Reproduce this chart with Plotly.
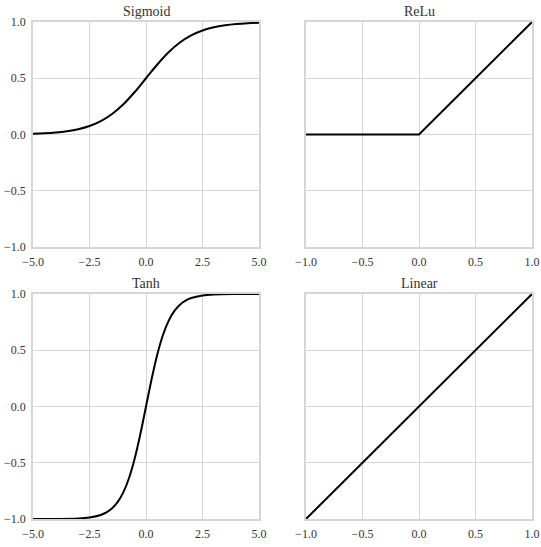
import plotly.graph_objects as go

# Data
sig_x = [-5, -4.5, -4, -3.5, -3, -2.5, -2, -1.5, -1, -0.5, 0, 0.5, 1, 1.5, 2, 2.5, 3, 3.5, 4, 4.5, 5]
sig_y = [0.0067, 0.0110, 0.0180, 0.0293, 0.0474, 0.0759, 0.1192, 0.1824, 0.2689, 0.3775, 0.5,
         0.6225, 0.7311, 0.8176, 0.8808, 0.9241, 0.9526, 0.9707, 0.9820, 0.9890, 0.9933]

relu_x = [-1.0, 0.0, 1.0]
relu_y = [0.0, 0.0, 1.0]

tanh_x = [-5, -4, -3, -2.5, -2, -1.75, -1.5, -1.25, -1, -0.75, -0.5, -0.25, 0,
          0.25, 0.5, 0.75, 1, 1.25, 1.5, 1.75, 2, 2.5, 3, 4, 5]
tanh_y = [-0.9999, -0.9993, -0.9951, -0.9866, -0.9640, -0.9414, -0.9051, -0.8483, -0.7616, -0.6351, -0.4621, -0.2449, 0.0,
          0.2449, 0.4621, 0.6351, 0.7616, 0.8483, 0.9051, 0.9414, 0.9640, 0.9866, 0.9951, 0.9993, 0.9999]

lin_x = [-1.0, 1.0]
lin_y = [-1.0, 1.0]

titles = ["Sigmoid", "ReLu", "Tanh", "Linear"]
wide_ticks = [-5.0, -2.5, 0.0, 2.5, 5.0]
wide_text = ["\u22125.0", "\u22122.5", "0.0", "2.5", "5.0"]
unit_ticks = [-1.0, -0.5, 0.0, 0.5, 1.0]
unit_text = ["\u22121.0", "\u22120.5", "0.0", "0.5", "1.0"]

FONT = "Liberation Serif"
GRID = "#d6d6d6"
TXT = "#333333"

fig = go.Figure()
series = [(sig_x, sig_y), (relu_x, relu_y), (tanh_x, tanh_y), (lin_x, lin_y)]
for i, (xs, ys) in enumerate(series):
    n = "" if i == 0 else str(i + 1)
    fig.add_trace(go.Scatter(x=xs, y=ys, mode="lines", xaxis="x" + n, yaxis="y" + n,
                             line=dict(color="black", width=2, shape="spline" if i in (0, 2) else "linear"),
                             showlegend=False, hoverinfo="skip"))

W, H = 541, 547
xdoms = [[33 / W, 259 / W], [306 / W, 532 / W]]
ydoms = [[1 - 247 / H, 1 - 22 / H], [1 - 519 / H, 1 - 294 / H]]

layout = dict(width=W, height=H, margin=dict(l=0, r=0, t=0, b=0, autoexpand=False),
              paper_bgcolor="white", plot_bgcolor="white",
              font=dict(family=FONT, size=12, color=TXT))
annotations = []
for i in range(4):
    r, c = divmod(i, 2)
    n = "" if i == 0 else str(i + 1)
    wide = c == 0
    layout["xaxis" + n] = dict(domain=xdoms[c], anchor="y" + n, automargin=False,
                               range=[-5, 5] if wide else [-1, 1],
                               tickvals=wide_ticks if wide else unit_ticks,
                               ticktext=wide_text if wide else unit_text,
                               showgrid=True, gridcolor=GRID, gridwidth=1,
                               showline=True, mirror=True, linecolor=GRID, linewidth=1.5,
                               zeroline=False, ticks="outside", ticklen=3, tickcolor="rgba(0,0,0,0)",
                               tickfont=dict(size=12, family=FONT, color=TXT))
    layout["yaxis" + n] = dict(domain=ydoms[r], anchor="x" + n, range=[-1, 1], automargin=False,
                               tickvals=unit_ticks, ticktext=unit_text,
                               showticklabels=wide,
                               showgrid=True, gridcolor=GRID, gridwidth=1,
                               showline=True, mirror=True, linecolor=GRID, linewidth=1.5,
                               zeroline=False, ticks="outside", ticklen=3, tickcolor="rgba(0,0,0,0)",
                               tickfont=dict(size=12, family=FONT, color=TXT))
    annotations.append(dict(text=titles[i], x=sum(xdoms[c]) / 2, y=ydoms[r][1], xref="paper", yref="paper",
                            xanchor="center", yanchor="bottom", yshift=1, showarrow=False,
                            font=dict(size=14, family=FONT, color=TXT)))
layout["annotations"] = annotations
fig.update_layout(**layout)
fig.write_html("out.html")
